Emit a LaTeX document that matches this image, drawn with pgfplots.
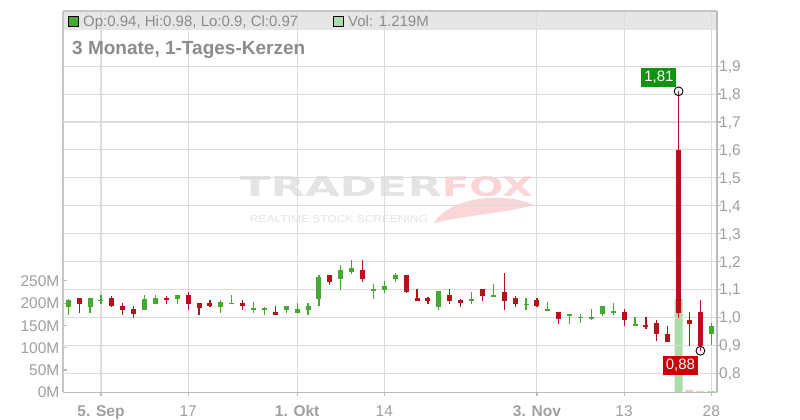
\documentclass[border=0pt]{standalone}
\usepackage{pgfplots}
\pgfplotsset{compat=1.18}
\usepackage{pgfplotstable}
\usepackage{fontspec}
\setmainfont{Liberation Sans}
\newfontfamily\wmfont{DejaVu Sans}

\definecolor{cgreen}{HTML}{44AA33}
\definecolor{cred}{HTML}{B5121B}
\definecolor{gridc}{HTML}{DCDCDC}
\definecolor{axc}{HTML}{BBBBBB}
\definecolor{txt}{HTML}{A0A0A0}
\definecolor{hdr}{HTML}{8C8C8C}
\definecolor{band}{HTML}{E6E6E6}
\definecolor{volg}{HTML}{AADDAA}
\definecolor{volr}{HTML}{F6C3C6}
\definecolor{lblg}{HTML}{109410}
\definecolor{lblr}{HTML}{CC0000}
\definecolor{wmgray}{HTML}{E4E4E4}
\definecolor{wmpink}{HTML}{FBD5D8}

% i = trading day, o h l c = open high low close
\pgfplotstableread{
i o h l c
1 1.038 1.065 1.008 1.061
3 1.038 1.068 1.015 1.068
4 1.060 1.079 1.047 1.062
8 1.027 1.079 1.027 1.065
9 1.048 1.079 1.048 1.068
11 1.065 1.079 1.047 1.079
15 1.037 1.061 1.015 1.054
16 1.049 1.079 1.049 1.052
18 1.028 1.054 1.015 1.031
19 1.028 1.037 1.008 1.031
21 1.026 1.040 1.015 1.040
22 1.015 1.051 1.015 1.029
23 1.026 1.051 1.008 1.040
24 1.065 1.150 1.040 1.143
26 1.136 1.189 1.097 1.168
27 1.164 1.207 1.154 1.175
29 1.098 1.118 1.065 1.101
30 1.097 1.129 1.086 1.111
31 1.136 1.157 1.125 1.150
35 1.037 1.093 1.026 1.093
38 1.058 1.090 1.047 1.065
40 1.076 1.118 1.076 1.079
43 1.045 1.068 1.026 1.048
45 1.026 1.054 1.026 1.029
47 1.008 1.012 0.976 1.012
48 0.998 1.012 0.980 1.001
49 0.997 1.029 0.990 1.000
50 1.012 1.040 1.005 1.040
51 1.018 1.051 1.008 1.021
53 0.969 1.000 0.969 0.976
60 0.940 0.980 0.900 0.970
}\greentab

\pgfplotstableread{
i o h l c
2 1.068 1.068 1.015 1.047
5 1.068 1.075 1.036 1.040
6 1.040 1.051 1.008 1.026
7 1.029 1.040 0.998 1.012
10 1.068 1.075 1.047 1.061
12 1.079 1.091 1.026 1.047
13 1.051 1.051 1.008 1.033
14 1.051 1.061 1.037 1.040
17 1.051 1.061 1.026 1.040
20 1.019 1.040 1.008 1.008
25 1.150 1.150 1.115 1.125
28 1.168 1.207 1.125 1.136
32 1.150 1.150 1.086 1.090
33 1.068 1.100 1.058 1.058
34 1.068 1.072 1.047 1.058
36 1.079 1.100 1.047 1.058
37 1.061 1.065 1.037 1.051
39 1.100 1.100 1.058 1.076
41 1.090 1.157 1.026 1.058
42 1.068 1.076 1.037 1.047
44 1.061 1.068 1.037 1.040
46 1.019 1.019 0.976 0.994
52 1.019 1.029 0.969 0.990
54 0.973 1.000 0.958 0.965
55 0.980 0.990 0.916 0.941
56 0.941 0.969 0.912 0.912
57 1.600 1.810 0.998 1.016
58 0.990 1.019 0.898 0.976
59 1.019 1.061 0.880 0.898
}\redtab

\begin{document}
\begin{tikzpicture}[x=1pt,y=1pt]
\useasboundingbox (0,0) rectangle (800,420);
\fill[white] (0,0) rectangle (800,420);

% header band
\fill[band] (63,390) rectangle (717,409);

% watermark
\node[inner sep=0pt, text=wmgray] at (341,233) {\resizebox{202pt}{20pt}{\wmfont\bfseries TRADER}};
\node[inner sep=0pt, text=wmpink] at (487.5,233) {\resizebox{91pt}{20pt}{\wmfont\bfseries FOX}};
\node[inner sep=0pt, text=wmgray] at (339,200.5) {\resizebox{178pt}{7pt}{REALTIME STOCK SCREENING}};
\fill[wmpink] (434,197) .. controls (452,226) and (510,227) .. (534,215)
  .. controls (505,207) and (468,205) .. (434,197);

% volume
\begin{axis}[
  at={(63pt,27.7pt)}, anchor=south west,
  width=654pt, height=381.3pt, scale only axis,
  xmin=0.5137, xmax=60.525, ymin=0, ymax=855,
  axis x line=none, axis y line*=left,
  axis line style={draw=gridc!90!black, line width=1.2pt, -},
  xtick=\empty,
  ytick={0,50,100,150,200,250},
  yticklabels={0M,50M,100M,150M,200M,250M},
  tick align=inside, major tick length=4pt,
  tick style={draw=axc, line width=1.2pt},
  yticklabel style={font=\fontsize{15.5}{18}\selectfont, text=txt,
    anchor=base east, inner sep=0pt, xshift=-3.5pt, yshift=-5.6pt},
]
\addplot[ybar, bar width=8pt, fill=volg, draw=none] coordinates {(57,209) (60,2.5)};
\addplot[ybar, bar width=8pt, fill=volr, draw=none] coordinates {(58,5) (59,2.5)};
\end{axis}

% price
\begin{axis}[
  at={(63pt,27.7pt)}, anchor=south west,
  width=654pt, height=381.3pt, scale only axis,
  xmin=0.5137, xmax=60.525, ymin=0.7312, ymax=2.0978,
  axis x line*=bottom, axis y line*=right,
  axis line style={draw=axc, line width=1.2pt, -},
  xtick={4,12,22,30,44,52,60},
  xticklabels={\textbf{5. Sep},17,\textbf{1. Okt},14,\textbf{3. Nov},13,28},
  ytick={0.8,0.9,1.0,1.1,1.2,1.3,1.4,1.5,1.6,1.7,1.8,1.9},
  yticklabels={{0,8},{0,9},{1,0},{1,1},{1,2},{1,3},{1,4},{1,5},{1,6},{1,7},{1,8},{1,9}},
  xmajorgrids, ymajorgrids,
  grid style={draw=gridc, line width=1.1pt},
  tick align=outside, major tick length=4pt,
  tick style={draw=axc, line width=1.2pt},
  ticklabel style={font=\fontsize{15.5}{18}\selectfont, text=txt},
  /pgf/number format/assume math mode=true,
  xticklabel style={anchor=base, inner sep=0pt, yshift=-20pt},
  yticklabel style={anchor=base west, inner sep=0pt, xshift=-2pt, yshift=-5.6pt},
  clip=false,
]
% wicks
\addplot[draw=none, mark=none, error bars/.cd, y dir=both, y explicit, error mark=none,
  error bar style={draw=cgreen, line width=1.2pt}]
  table[x=i, y expr={(\thisrow{h}+\thisrow{l})/2},
  y error expr={(\thisrow{h}-\thisrow{l})/2}] {\greentab};
\addplot[draw=none, mark=none, error bars/.cd, y dir=both, y explicit, error mark=none,
  error bar style={draw=cred, line width=1.2pt}]
  table[x=i, y expr={(\thisrow{h}+\thisrow{l})/2},
  y error expr={(\thisrow{h}-\thisrow{l})/2}] {\redtab};
% bodies
\addplot[draw=none, mark=none, error bars/.cd, y dir=both, y explicit, error mark=none,
  error bar style={draw=cgreen, line width=5pt}]
  table[x=i, y expr={(\thisrow{o}+\thisrow{c})/2},
  y error expr={max(abs(\thisrow{o}-\thisrow{c})/2,0.0025)}] {\greentab};
\addplot[draw=none, mark=none, error bars/.cd, y dir=both, y explicit, error mark=none,
  error bar style={draw=cred, line width=5pt}]
  table[x=i, y expr={(\thisrow{o}+\thisrow{c})/2},
  y error expr={max(abs(\thisrow{o}-\thisrow{c})/2,0.0025)}] {\redtab};
% high / low markers
\addplot[only marks, mark=o, mark size=4.4pt, mark options={draw=black, line width=0.9pt}]
  coordinates {(57,1.81) (59,0.88)};
\node[fill=lblg, text=white, anchor=south east, inner sep=0pt, minimum width=35pt,
  minimum height=19pt, font=\fontsize{15}{18}\selectfont]
  at ([xshift=-2pt,yshift=4pt]axis cs:57,1.81) {1,81};
\node[fill=lblr, text=white, anchor=north east, inner sep=0pt, minimum width=35pt,
  minimum height=19pt, font=\fontsize{15}{18}\selectfont]
  at ([xshift=-2.3pt,yshift=-5.2pt]axis cs:59,0.88) {0,88};
\end{axis}

% frame top line
\draw[gridc!90!black, line width=1.2pt] (63,409) -- (717,409);

% header texts
\draw[black, line width=0.9pt, fill=cgreen] (68.5,393.5) rectangle (78.5,403.5);
\node[anchor=base west, inner sep=0pt, text=hdr, font=\fontsize{15}{18}\selectfont]
  at (83,393.3) {Op:0.94, Hi:0.98, Lo:0.9, Cl:0.97};
\draw[black, line width=0.9pt, fill=volg] (333,393.5) rectangle (343,403.5);
\node[anchor=base west, inner sep=0pt, text=hdr, font=\fontsize{15}{18}\selectfont]
  at (348,393.3) {Vol: 1.219M};
\node[anchor=base west, inner sep=0pt, text=hdr, font=\bfseries\fontsize{19}{22}\selectfont]
  at (72,365.7) {3 Monate, 1-Tages-Kerzen};
\end{tikzpicture}
\end{document}
